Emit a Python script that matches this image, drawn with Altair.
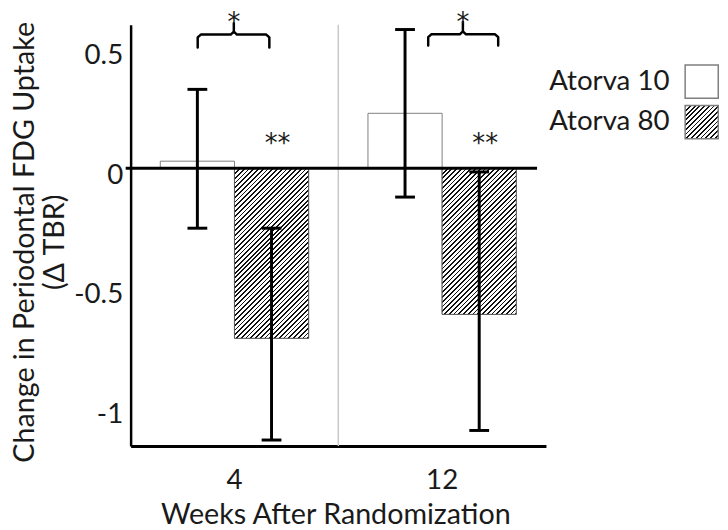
import json
import altair as alt
import pandas as pd

# ---------------- data ----------------
weeks = ["4", "12"]
groups = ["Atorva 10", "Atorva 80"]
mean_atorva10 = [0.03, 0.23]
mean_atorva80 = [-0.71, -0.61]
lower_atorva10 = [-0.25, -0.12]
upper_atorva10 = [0.33, 0.58]
lower_atorva80 = [-1.135, -1.095]
upper_atorva80 = [-0.25, -0.015]
pair_marks = ["*", "*"]      # Atorva 10 vs 80 comparison (brace)
dose_marks = ["**", "**"]    # Atorva 80 vs baseline
y_ticks = [-1, -0.5, 0, 0.5]

# ---------------- layout / style ----------------
W, H = 420, 426
Y_DOMAIN = [-1.16, 0.6]
PX = H / (Y_DOMAIN[1] - Y_DOMAIN[0])
BAR_W = 75
FONT = "Lato"
FS = 28
INK = "#1a1a1a"
STAR_FONT = "DejaVu Sans"

# annotation layout (fractions of a week band, y in data units)
brace_left = [0.323, 0.433]
brace_right = [0.668, 0.770]
brace_tip = [0.497, 0.600]
brace_level = [0.559, 0.560]
brace_end = [0.505, 0.513]
brace_top = [0.606, 0.612]
pair_star_y = [0.573, 0.573]
dose_star_y = [0.068, 0.068]


def hatch(w, h, period=4.8, dark=1.8, ink="#111111"):
    """Diagonal '/' hatching as a hard-stop linear gradient for a w x h box."""
    span = w + h
    k = span / (w * w + h * h)
    stops = []
    pos = 0.0
    while pos < span:
        a = pos / span
        b = min((pos + dark) / span, 1.0)
        c = min((pos + period) / span, 1.0)
        stops += [
            {"offset": round(a, 5), "color": ink},
            {"offset": round(b, 5), "color": ink},
            {"offset": round(b, 5), "color": "#ffffff"},
            {"offset": round(c, 5), "color": "#ffffff"},
        ]
        pos += period
    return {"gradient": "linear", "x1": 0, "y1": 0,
            "x2": round(w * k, 5), "y2": round(h * k, 5), "stops": stops}


rows = []
for i, wk in enumerate(weeks):
    rows.append(dict(week=wk, group=groups[0], mean=mean_atorva10[i],
                     lo=lower_atorva10[i], hi=upper_atorva10[i]))
    rows.append(dict(week=wk, group=groups[1], mean=mean_atorva80[i],
                     lo=lower_atorva80[i], hi=upper_atorva80[i]))
df = pd.DataFrame(rows)

dose_df = pd.DataFrame({"week": weeks, "group": [groups[1]] * len(weeks),
                        "label": dose_marks, "yv": dose_star_y})

brace_rows = []
star_rows = []
dx, dy = 0.015, 0.012
for i, wk in enumerate(weeks):
    L, R, C = i + brace_left[i], i + brace_right[i], i + brace_tip[i]
    lv, en, tp = brace_level[i], brace_end[i], brace_top[i]
    pts = [(L, en), (L, lv - dy), (L + dx, lv), (C - dx, lv), (C, lv + dy),
           (C, tp), (C, lv + dy), (C + dx, lv), (R - dx, lv), (R, lv - dy), (R, en)]
    for k, (px_, py_) in enumerate(pts):
        brace_rows.append(dict(bid=wk, k=k, bx=px_, by=py_))
    star_rows.append(dict(bx=C, by=pair_star_y[i], label=pair_marks[i]))
brace_df = pd.DataFrame(brace_rows)
star_df = pd.DataFrame(star_rows)

# ---------------- scales / axes ----------------
xsc = alt.Scale(domain=weeks, paddingInner=0, paddingOuter=0)
xoff_sc = alt.Scale(domain=groups, paddingInner=0, paddingOuter=0.4)
ysc = alt.Scale(domain=Y_DOMAIN, nice=False)
bxsc = alt.Scale(domain=[0, len(weeks)], nice=False, zero=False)

x_axis = alt.Axis(title="Weeks After Randomization", labelAngle=0, ticks=False, tickSize=0,
                  grid=False, domainColor="black", domainWidth=3,
                  labelFont=FONT, labelFontSize=FS, labelColor=INK, labelPadding=21,
                  titleFont=FONT, titleFontSize=29, titleFontWeight="normal", titleColor=INK,
                  titleX=207, titleY=78, titleAlign="center", titleBaseline="alphabetic")
y_axis = alt.Axis(title=["Change in Periodontal FDG Uptake", "(\u0394 TBR)"],
                  values=y_ticks, labelExpr="toString(datum.value)",
                  ticks=False, tickSize=0, grid=False, domainColor="black", domainWidth=2.5,
                  labelFont=FONT, labelFontSize=FS, labelColor=INK, labelPadding=8, labelOffset=7,
                  titleFont=FONT, titleFontSize=29, titleFontWeight="normal", titleColor=INK,
                  titleX=-98, titleY=219.5, titleAlign="center", titleBaseline="alphabetic",
                  titleLineHeight=30)


def X():
    return alt.X("week:N", scale=xsc, axis=x_axis, sort=weeks)


def XO():
    return alt.XOffset("group:N", scale=xoff_sc, sort=groups)


def Y(field):
    return alt.Y(f"{field}:Q", scale=ysc, axis=y_axis)


legend = alt.Legend(title=None, orient="none", legendX=560, legendY=40, direction="vertical",
                    labelFont=FONT, labelFontSize=FS, labelColor=INK, labelAlign="right",
                    labelOffset=alt.ExprRef(expr="-50"), labelLimit=400,
                    symbolType="square", symbolSize=1122,
                    symbolStrokeColor="#7f7f7f", symbolStrokeWidth=1.5, symbolOpacity=1,
                    rowPadding=0, padding=0)

legend_hatch = hatch(33.5, 33.5)
fill_scale = alt.Scale(domain=groups,
                       range=["#ffffff", alt.ExprRef(expr=json.dumps(legend_hatch))])

sep = alt.Chart(pd.DataFrame({"week": weeks[1:]})).mark_rule(
    color="#c8c8c8", strokeWidth=1.5).encode(
    x=alt.X("week:N", scale=xsc, axis=x_axis, bandPosition=0))

bars = alt.Chart(df).mark_bar(stroke="#7f7f7f", strokeWidth=1, opacity=1).encode(
    x=X(), xOffset=XO(), y=Y("mean"),
    fill=alt.Fill("group:N", scale=fill_scale, legend=legend))

hatched = []
for i, wk in enumerate(weeks):
    g = hatch(BAR_W, abs(mean_atorva80[i]) * PX)
    hatched.append(
        alt.Chart(df)
        .transform_filter(f"datum.group == '{groups[1]}' && datum.week == '{wk}'")
        .mark_bar(fill=g, stroke="#595959", strokeWidth=1, opacity=1)
        .encode(x=X(), xOffset=XO(), y=Y("mean"))
    )

zero = alt.Chart(pd.DataFrame({"z": [0]})).mark_rule(color="black", strokeWidth=3).encode(
    y=alt.Y("z:Q", scale=ysc, axis=y_axis), x=alt.value(-5), x2=alt.value(411))

err = alt.Chart(df).mark_rule(color="black", strokeWidth=3, opacity=1).encode(
    x=X(), xOffset=XO(), y=Y("lo"), y2="hi:Q")
cap_lo = alt.Chart(df).mark_tick(color="black", thickness=3, size=20, orient="horizontal",
                                 opacity=1).encode(x=X(), xOffset=XO(), y=Y("lo"))
cap_hi = alt.Chart(df).mark_tick(color="black", thickness=3, size=20, orient="horizontal",
                                 opacity=1).encode(x=X(), xOffset=XO(), y=Y("hi"))

dose_text = alt.Chart(dose_df).mark_text(font=STAR_FONT, fontSize=26, color=INK,
                                         baseline="alphabetic", dx=6).encode(
    x=X(), xOffset=XO(), y=Y("yv"), text="label:N")

brace = alt.Chart(brace_df).mark_line(color="black", strokeWidth=2.5, strokeJoin="round",
                                      strokeCap="round", opacity=1).encode(
    x=alt.X("bx:Q", scale=bxsc, axis=None), y=alt.Y("by:Q", scale=ysc, axis=y_axis),
    detail="bid:N", order="k:Q")
stars = alt.Chart(star_df).mark_text(font=STAR_FONT, fontSize=26, color=INK,
                                     baseline="alphabetic").encode(
    x=alt.X("bx:Q", scale=bxsc, axis=None), y=alt.Y("by:Q", scale=ysc, axis=y_axis),
    text="label:N")

band_layer = alt.layer(sep, bars, *hatched, zero, err, cap_lo, cap_hi, dose_text)
ann_layer = alt.layer(brace, stars)

chart = (
    alt.layer(band_layer, ann_layer)
    .resolve_scale(x="independent")
    .properties(width=W, height=H,
                autosize=alt.AutoSizeParams(type="none"),
                padding={"left": 124, "top": 14, "right": 176, "bottom": 82})
    .configure(background="white")
    .configure_view(strokeWidth=0)
)

chart.save("out.html", embed_options={"renderer": "svg", "actions": False})
